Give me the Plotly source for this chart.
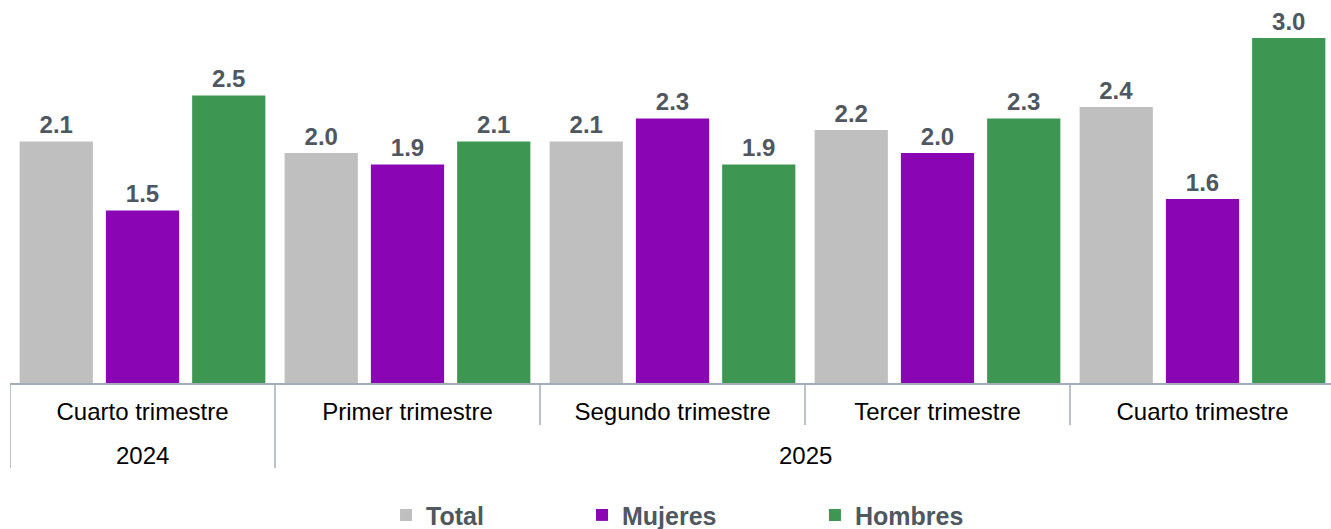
import plotly.graph_objects as go

years = ["2024", "2025", "2025", "2025", "2025"]
quarters = ["Cuarto trimestre", "Primer trimestre", "Segundo trimestre",
            "Tercer trimestre", "Cuarto trimestre"]
total = [2.1, 2.0, 2.1, 2.2, 2.4]
mujeres = [1.5, 1.9, 2.3, 2.0, 1.6]
hombres = [2.5, 2.1, 1.9, 2.3, 3.0]

series = [
    ("Total", total, "#BFBFBF", "legend", 0.2838),
    ("Mujeres", mujeres, "#8A05B4", "legend2", 0.4317),
    ("Hombres", hombres, "#3D9753", "legend3", 0.6075),
]

FONT = "Arial, Liberation Sans, sans-serif"
LABEL_COLOR = "#4F5761"
LINE_COLOR = "#A3ADB8"
PLOT_H = 383  # px height of plotting area

idx = list(range(len(quarters)))

fig = go.Figure()
for name, vals, color, leg, _ in series:
    fig.add_trace(go.Bar(
        name=name,
        x=idx,
        y=vals,
        marker=dict(color=color, line=dict(width=0)),
        texttemplate="%{y:.1f}",
        textposition="outside",
        textfont=dict(family=FONT, size=24, color=LABEL_COLOR, weight="bold"),
        cliponaxis=False,
        legend=leg,
        showlegend=True,
        hoverinfo="skip",
    ))

legend_common = dict(
    orientation="h", yanchor="middle", xanchor="left", y=-0.345,
    font=dict(family=FONT, size=25, color=LABEL_COLOR, weight="bold"),
    bgcolor="rgba(0,0,0,0)", itemwidth=30, visible=True,
)
layout_legends = {}
for name, vals, color, leg, lx in series:
    layout_legends[leg] = dict(legend_common, x=lx)

# year groups (outer category level)
groups = []
for i, y in enumerate(years):
    if groups and groups[-1][0] == y:
        groups[-1][1].append(i)
    else:
        groups.append((y, [i]))

shapes = []
annotations = []
outer_starts = {g[1][0] for g in groups}
for i in idx:
    long_line = i in outer_starts
    depth = 85 if long_line else 42
    shapes.append(dict(type="line", xref="x", yref="paper",
                       x0=i - 0.5, x1=i - 0.5, y0=0, y1=-depth / PLOT_H,
                       line=dict(color=LINE_COLOR, width=1.5)))
for y, members in groups:
    annotations.append(dict(
        text=y, xref="x", yref="paper",
        x=sum(members) / len(members), y=-(455 - PLOT_H) / PLOT_H,
        xanchor="center", yanchor="middle", showarrow=False,
        font=dict(family=FONT, size=24, color="#000000"),
    ))

fig.update_layout(
    width=1335, height=529,
    margin=dict(l=10, r=0, t=0, b=146, autoexpand=False),
    paper_bgcolor="white", plot_bgcolor="white",
    barmode="group", bargap=0.0235, bargroupgap=0.151,
    font=dict(family=FONT, color="#000000"),
    showlegend=True,
    shapes=shapes,
    annotations=annotations,
    **layout_legends,
)
fig.update_xaxes(
    range=[-0.5, len(quarters) - 0.5],
    tickvals=idx, ticktext=quarters,
    showline=True, linecolor=LINE_COLOR, linewidth=1.5,
    ticks="", showgrid=False, zeroline=False, automargin=False,
    tickfont=dict(family=FONT, size=24, color="#000000"),
    ticklabelstandoff=6,
)
fig.update_yaxes(visible=False, range=[0, 3.33], showgrid=False, zeroline=False)

fig.write_html(
    "out.html",
    config={"displayModeBar": False},
    post_script="document.body.style.margin='0';document.body.style.overflow='hidden';",
)
